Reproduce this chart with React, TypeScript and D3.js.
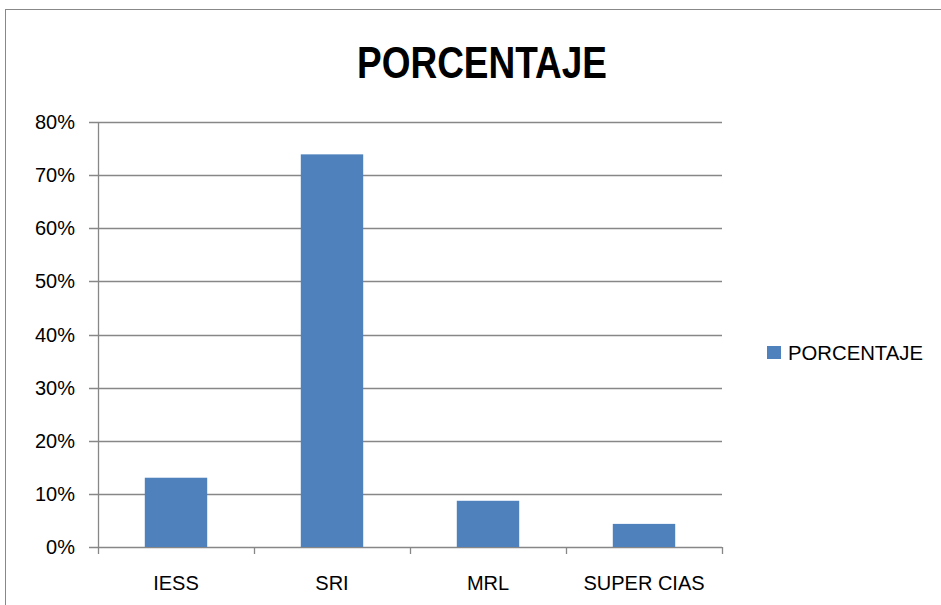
import React from "react";
import * as d3 from "d3";

const categories = ["IESS", "SRI", "MRL", "SUPER CIAS"];
const values = [0.1304, 0.7391, 0.087, 0.0435];
const yTicks = [0, 0.1, 0.2, 0.3, 0.4, 0.5, 0.6, 0.7, 0.8];
const title = "PORCENTAJE";
const seriesName = "PORCENTAJE";

export default function App() {
  const W = 941, H = 605;
  const left = 98, right = 722, top = 122, bottom = 547;
  const x = d3.scaleBand<string>().domain(categories).range([left, right]).paddingInner(0).paddingOuter(0);
  const y = d3.scaleLinear().domain([0, 0.8]).range([bottom, top]);
  const bw = x.bandwidth() * 0.4;
  const fmt = d3.format(".0%");
  const grid = "#878787";
  const font = "'Liberation Sans', Arial, sans-serif";
  return (
    <svg width={W} height={H} style={{ position: "absolute", left: 0, top: 0 }}>
      <rect x={0} y={0} width={W} height={H} fill="#fff" />
      <rect x={5.5} y={9.5} width={W + 10} height={H + 10} fill="none" stroke="#888" strokeWidth={1} />
      <text x={482} y={78} textAnchor="middle" fontFamily={font} fontWeight="bold" fontSize={44} textLength={250} lengthAdjust="spacingAndGlyphs" fill="#000">{title}</text>
      {yTicks.map((t) => (
        <g key={t}>
          <line x1={89} x2={right} y1={Math.round(y(t)) + 0.5} y2={Math.round(y(t)) + 0.5} stroke={grid} strokeWidth={1.3} />
          <text x={75} y={y(t) + 7} textAnchor="end" fontFamily={font} fontSize={20} fill="#000">{fmt(t)}</text>
        </g>
      ))}
      <line x1={left + 0.5} x2={left + 0.5} y1={top} y2={bottom} stroke={grid} strokeWidth={1.3} />
      {categories.map((c, i) => (
        <line key={"t" + i} x1={(x(c) as number) + 0.5} x2={(x(c) as number) + 0.5} y1={bottom} y2={bottom + 7} stroke={grid} strokeWidth={1.3} />
      ))}
      <line x1={right + 0.5} x2={right + 0.5} y1={bottom} y2={bottom + 7} stroke={grid} strokeWidth={1.3} />
      {categories.map((c, i) => {
        const cx = (x(c) as number) + x.bandwidth() / 2;
        return (
          <g key={c}>
            <rect x={cx - bw / 2} y={y(values[i])} width={bw} height={bottom - y(values[i])} fill="#4F81BD" />
            <text x={cx} y={590} textAnchor="middle" fontFamily={font} fontSize={20} fill="#000">{c}</text>
          </g>
        );
      })}
      <rect x={767} y={346} width={14} height={13} fill="#4F81BD" />
      <text x={788} y={360} fontFamily={font} fontSize={20} textLength={135} lengthAdjust="spacingAndGlyphs" fill="#000">{seriesName}</text>
    </svg>
  );
}
